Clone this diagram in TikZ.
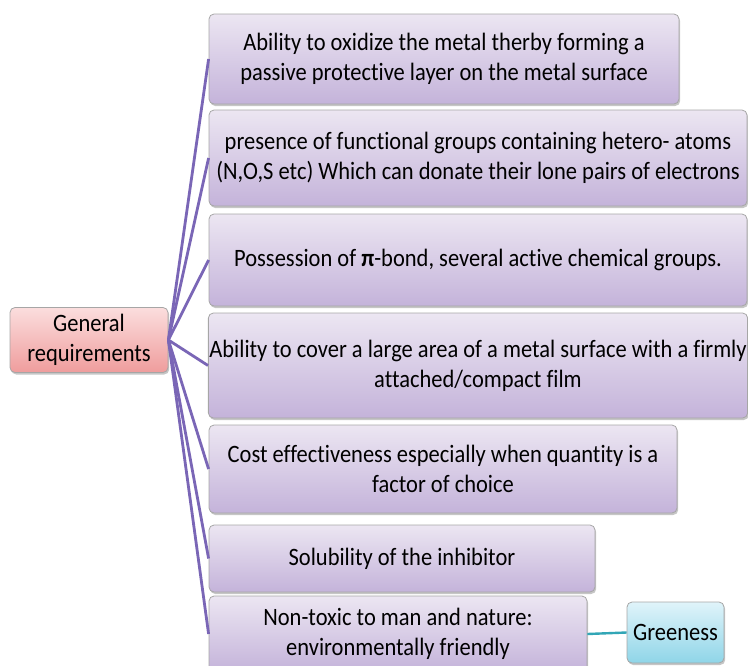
\documentclass[tikz,border=0pt]{standalone}
\usepackage{fontspec}
\setmainfont[FakeStretch=0.9, Ligatures=NoCommon]{Carlito}
\usetikzlibrary{shadows}

\definecolor{reqtop}{HTML}{ECE6F2}
\definecolor{reqbot}{HTML}{C4B3DA}
\definecolor{roottop}{HTML}{FBDEDE}
\definecolor{rootbot}{HTML}{EF9C9C}
\definecolor{greentop}{HTML}{E0F4FA}
\definecolor{greenbot}{HTML}{8FD5E8}
\definecolor{linkcol}{HTML}{7A66B6}
\definecolor{greenlink}{HTML}{32A6B6}

\begin{document}
\begin{tikzpicture}[x=1pt, y=-1pt,
  every box/.style={rounded corners=5pt, draw=black!35, line width=0.8pt,
    align=center, inner sep=1pt, font=\fontsize{25}{30}\selectfont,
    drop shadow={shadow xshift=1.2pt, shadow yshift=-2pt, opacity=0.45}},
  req box/.style={every box, top color=reqtop, bottom color=reqbot},
  root box/.style={every box, top color=roottop, bottom color=rootbot},
  green box/.style={every box, top color=greentop, bottom color=greenbot},
  link/.style={draw=linkcol, line width=2.8pt},
  green link/.style={draw=greenlink, line width=2.4pt}]

\useasboundingbox (0,0) rectangle (748,665);

% Create the root node
\node [root box, minimum width=158pt, minimum height=65pt] (general) at (89,340)
  {General\\requirements};

% Create the requirement nodes
\foreach \cx/\cy/\w/\h/\t [count=\i] in {
  444/59/470/90/{Ability to oxidize the metal therby forming a\\passive protective layer on the metal surface},
  478/158/538/96/{presence of functional groups containing hetero- atoms\\(N,O,S etc) Which can donate their lone pairs of electrons},
  478/260/538/92/{Possession of \textbf{π}-bond, several active chemical groups.},
  478/365.5/538/105/{Ability to cover a large area of a metal surface with a firmly\\attached/compact film},
  443/469/468/88/{Cost effectiveness especially when quantity is a\\factor of choice},
  402/558.5/386/67/{Solubility of the inhibitor},
  398/634/378/76/{Non-toxic to man and nature:\\environmentally friendly}}
  \node [req box, minimum width=\w pt, minimum height=\h pt] (req-\i) at (\cx,\cy) {\t};

% Create the greeness node
\node [green box, minimum width=97pt, minimum height=61pt] (greeness) at (675.5,632.5)
  {Greeness};

% Connect the root to the requirements
\foreach \i in {1,...,7}
  \draw [link] (general.east) -- (req-\i.west);

% Connect the last requirement to greeness
\draw [green link] (req-7.east) -- (greeness.west);

\end{tikzpicture}
\end{document}
